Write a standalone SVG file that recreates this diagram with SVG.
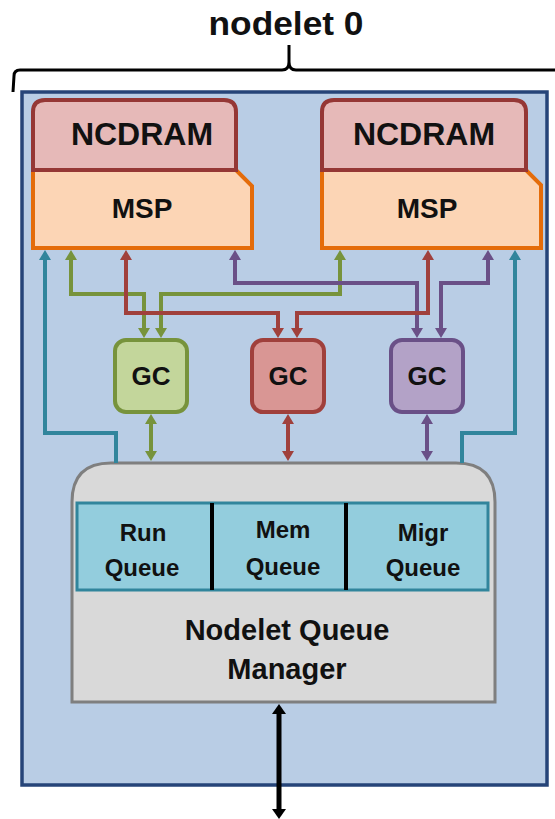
<svg xmlns="http://www.w3.org/2000/svg" width="555" height="819" viewBox="0 0 555 819">
  <style>
    text { font-family: "Liberation Sans", Arial, sans-serif; text-anchor: middle; fill: #111; }
    .b { font-weight: bold; }
    .wire { fill: none; stroke-width: 4; stroke-linejoin: miter; }
    .green { stroke: #77933C; }
    .red { stroke: #A0403C; }
    .purple { stroke: #6A5087; }
    .teal { stroke: #31859C; }
    .black { stroke: #000; stroke-width: 5; }
  </style>
  <defs>
    <marker id="ah-green" viewBox="0 0 10 12" refX="4" refY="6" markerWidth="10" markerHeight="12" markerUnits="userSpaceOnUse" orient="auto-start-reverse"><path d="M0,0 L10,6 L0,12 z" fill="#77933C"/></marker>
    <marker id="ah-red" viewBox="0 0 10 12" refX="4" refY="6" markerWidth="10" markerHeight="12" markerUnits="userSpaceOnUse" orient="auto-start-reverse"><path d="M0,0 L10,6 L0,12 z" fill="#A0403C"/></marker>
    <marker id="ah-purple" viewBox="0 0 10 12" refX="4" refY="6" markerWidth="10" markerHeight="12" markerUnits="userSpaceOnUse" orient="auto-start-reverse"><path d="M0,0 L10,6 L0,12 z" fill="#6A5087"/></marker>
    <marker id="ah-teal" viewBox="0 0 10 12" refX="4" refY="6" markerWidth="10" markerHeight="12" markerUnits="userSpaceOnUse" orient="auto-start-reverse"><path d="M0,0 L10,6 L0,12 z" fill="#31859C"/></marker>
    <marker id="ah-black" viewBox="0 0 10 14" refX="4" refY="7" markerWidth="10" markerHeight="14" markerUnits="userSpaceOnUse" orient="auto-start-reverse"><path d="M0,0 L10,7 L0,14 z" fill="#000"/></marker>
  </defs>

  <!-- title and brace -->
  <g id="title">
    <text class="b" x="286" y="35" font-size="34" textLength="155" lengthAdjust="spacingAndGlyphs">nodelet 0</text>
    <path d="M13,92 L14,76 Q14,70 20,70 L282,70 Q289,70 289,62 L289,45 M289,62 Q289,70 296,70 L555,70" fill="none" stroke="#000" stroke-width="3"/>
  </g>

  <!-- nodelet boundary -->
  <g id="nodelet">
    <rect x="22" y="92" width="525" height="693" fill="#B9CDE5" stroke="#264478" stroke-width="3.5"/>
  </g>

  <!-- memory side, left -->
  <g id="msp-left">
    <path d="M33,170 L236,170 L252,186 L252,248 L33,248 Z" fill="#FCD5B5" stroke="#E46C0A" stroke-width="4"/>
    <text class="b" x="142" y="218" font-size="28">MSP</text>
  </g>
  <g id="ncdram-left">
    <path d="M33,170 L33,112 Q33,100 45,100 L224,100 Q236,100 236,112 L236,170 Z" fill="#E6B9B8" stroke="#953735" stroke-width="4"/>
    <text class="b" x="142" y="145" font-size="32">NCDRAM</text>
  </g>

  <!-- memory side, right -->
  <g id="msp-right">
    <path d="M322,170 L526,170 L541,185 L541,248 L322,248 Z" fill="#FCD5B5" stroke="#E46C0A" stroke-width="4"/>
    <text class="b" x="427" y="218" font-size="28">MSP</text>
  </g>
  <g id="ncdram-right">
    <path d="M322,170 L322,112 Q322,100 334,100 L514,100 Q526,100 526,112 L526,170 Z" fill="#E6B9B8" stroke="#953735" stroke-width="4"/>
    <text class="b" x="424" y="145" font-size="32">NCDRAM</text>
  </g>

  <!-- gossamer cores -->
  <g id="gc-green">
    <rect x="115" y="340" width="72" height="72" rx="11" fill="#C3D69B" stroke="#77933C" stroke-width="4"/>
    <text class="b" x="151" y="385" font-size="26">GC</text>
  </g>
  <g id="gc-red">
    <rect x="252" y="340" width="72" height="72" rx="11" fill="#D99694" stroke="#A0403C" stroke-width="4"/>
    <text class="b" x="288" y="385" font-size="26">GC</text>
  </g>
  <g id="gc-purple">
    <rect x="391" y="340" width="72" height="72" rx="11" fill="#B3A2C7" stroke="#6A5087" stroke-width="4"/>
    <text class="b" x="427" y="385" font-size="26">GC</text>
  </g>

  <!-- queue manager -->
  <g id="queue-manager">
    <path d="M72,702 L72,502 Q72,463 111,463 L456,463 Q495,463 495,502 L495,702 Z" fill="#D9D9D9" stroke="#7F7F7F" stroke-width="3"/>
    <rect x="77" y="503" width="411" height="87" fill="#93CDDD" stroke="#31859C" stroke-width="3"/>
    <line x1="212" y1="503" x2="212" y2="590" stroke="#000" stroke-width="4"/>
    <line x1="346" y1="503" x2="346" y2="590" stroke="#000" stroke-width="4"/>
    <text class="b" x="143" y="541" font-size="24">Run</text>
    <text class="b" x="142" y="576" font-size="24">Queue</text>
    <text class="b" x="283" y="538" font-size="24">Mem</text>
    <text class="b" x="283" y="575" font-size="24">Queue</text>
    <text class="b" x="423" y="541" font-size="24">Migr</text>
    <text class="b" x="423" y="576" font-size="24">Queue</text>
    <text class="b" x="287" y="640" font-size="29">Nodelet Queue</text>
    <text class="b" x="287" y="679" font-size="29">Manager</text>
  </g>

  <!-- connectors -->
  <g id="connectors">
    <path class="wire teal" d="M116,463 L116,433 L45,433 L45,256" marker-end="url(#ah-teal)"/>
    <path class="wire teal" d="M462,463 L462,433 L515,433 L515,256" marker-end="url(#ah-teal)"/>
    <path class="wire green" d="M71,256 L71,294 L144,294 L144,332" marker-start="url(#ah-green)" marker-end="url(#ah-green)"/>
    <path class="wire green" d="M340,256 L340,294 L161,294 L161,332" marker-start="url(#ah-green)" marker-end="url(#ah-green)"/>
    <path class="wire green" d="M151,420 L151,455" marker-start="url(#ah-green)" marker-end="url(#ah-green)"/>
    <path class="wire purple" d="M235,256 L235,283 L417,283 L417,332" marker-start="url(#ah-purple)" marker-end="url(#ah-purple)"/>
    <path class="wire purple" d="M488,256 L488,283 L441,283 L441,332" marker-start="url(#ah-purple)" marker-end="url(#ah-purple)"/>
    <path class="wire purple" d="M427,420 L427,455" marker-start="url(#ah-purple)" marker-end="url(#ah-purple)"/>
    <path class="wire red" d="M126,256 L126,313 L278,313 L278,332" marker-start="url(#ah-red)" marker-end="url(#ah-red)"/>
    <path class="wire red" d="M428,256 L428,313 L297,313 L297,332" marker-start="url(#ah-red)" marker-end="url(#ah-red)"/>
    <path class="wire red" d="M288,420 L288,455" marker-start="url(#ah-red)" marker-end="url(#ah-red)"/>
    <path class="wire black" d="M279,710 L279,813" marker-start="url(#ah-black)" marker-end="url(#ah-black)"/>
  </g>
</svg>
